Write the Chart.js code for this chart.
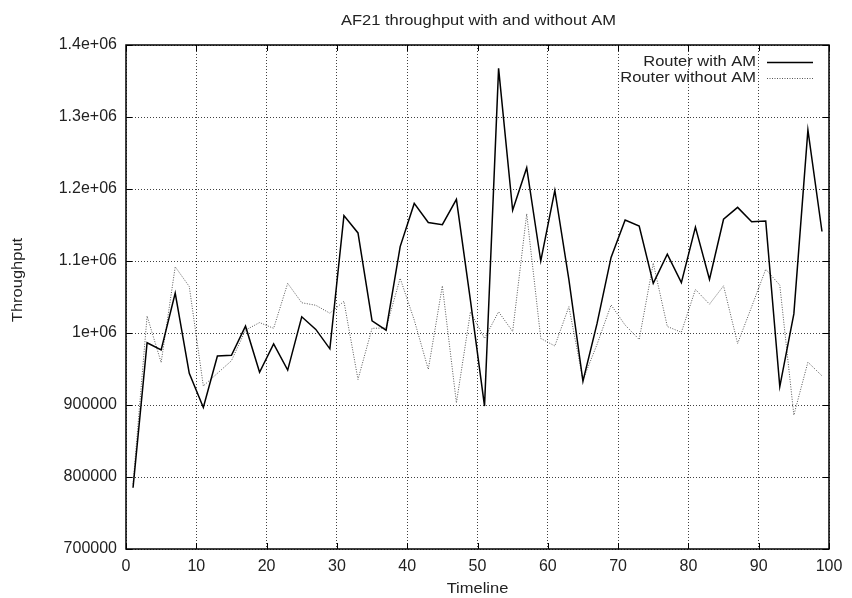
<!DOCTYPE html>
<html>
<head>
<meta charset="utf-8">
<title>AF21 throughput</title>
<script src="https://cdn.jsdelivr.net/npm/chart.js@4.4.1/dist/chart.umd.min.js"></script>
<style>
  html, body { margin: 0; padding: 0; background: #fff; }
  #wrap { width: 852px; height: 598px; }
</style>
</head>
<body>
<div id="wrap"><canvas id="throughputChart" width="852" height="598"></canvas></div>
<script>
// sample times on the timeline
var timeline = [1, 3, 5, 7, 9, 11, 13, 15, 17, 19,
                21, 23, 25, 27, 29, 31, 33, 35, 37, 39,
                41, 43, 45, 47, 49, 51, 53, 55, 57, 59,
                61, 63, 65, 67, 69, 71, 73, 75, 77, 79,
                81, 83, 85, 87, 89, 91, 93, 95, 97, 99];

var withAM = [785000, 986500, 976500, 1055500, 944000, 896500, 968000, 969000, 1009500, 945500,
              985000, 948500, 1022500, 1005000, 978000, 1163000, 1139000, 1017000, 1004000, 1120000,
              1180000, 1153500, 1150500, 1185500, 1045000, 898500, 1367500, 1170500, 1229500, 1100000,
              1198000, 1074000, 933000, 1013000, 1105000, 1157000, 1148500, 1069000, 1109500, 1070000,
              1147000, 1074500, 1158000, 1174500, 1154500, 1155500, 925500, 1026500, 1282000, 1141000];

var withoutAM = [790000, 1023500, 959000, 1092000, 1064500, 926500, 944000, 961500, 1004000, 1014500,
                 1006500, 1069000, 1042000, 1038500, 1027500, 1044000, 935500, 1006500, 1007000, 1076000,
                 1018000, 949500, 1065500, 903000, 1029500, 992500, 1029500, 1002000, 1165500, 992500,
                 982000, 1036500, 935000, 984000, 1039000, 1011000, 991000, 1097000, 1009000, 1001000,
                 1060500, 1040000, 1065500, 985500, 1036500, 1088500, 1066500, 886000, 959500, 940500];

var seriesNames = ["Router with AM", "Router without AM"];
var chartTitle = "AF21 throughput with and without AM";
var xTitle = "Timeline";
var yTitle = "Throughput";

var FONT = "'Liberation Sans', Arial, Helvetica, sans-serif";

function toPoints(ys) {
    var pts = [];
    for (var i = 0; i < timeline.length; i++) {
        pts.push({ x: timeline[i], y: ys[i] });
    }
    return pts;
}

// gnuplot style %g labels
function gLabel(v) {
    if (v >= 1000000) {
        return (Math.round(v / 10000) / 100) + "e+06";
    }
    return String(Math.round(v));
}

// text a little wider than the font, like the postscript output
function wideText(ctx, text, x, y, align, angle) {
    ctx.save();
    ctx.translate(x, y);
    if (angle) ctx.rotate(angle);
    ctx.scale(1.1, 1);
    ctx.textAlign = align;
    ctx.fillText(text, 0, 0);
    ctx.restore();
}

// frame, inward tick marks, title, axis titles and the legend
var gnuplotFrame = {
    id: "gnuplotFrame",
    afterDraw: function(chart) {
        var ctx = chart.ctx;
        var a = chart.chartArea;
        var xs = chart.scales.x, ys = chart.scales.y;
        ctx.save();

        ctx.strokeStyle = "#000";
        ctx.lineWidth = 1;
        ctx.setLineDash([]);
        ctx.beginPath();
        xs.ticks.forEach(function(t) {
            var px = Math.round(xs.getPixelForValue(t.value)) + 0.5;
            ctx.moveTo(px, a.bottom); ctx.lineTo(px, a.bottom - 6);
            ctx.moveTo(px, a.top); ctx.lineTo(px, a.top + 6);
        });
        ys.ticks.forEach(function(t) {
            var py = Math.round(ys.getPixelForValue(t.value)) + 0.5;
            ctx.moveTo(a.left, py); ctx.lineTo(a.left + 6, py);
            ctx.moveTo(a.right, py); ctx.lineTo(a.right - 6, py);
        });
        ctx.stroke();

        ctx.lineWidth = 1.5;
        ctx.strokeRect(a.left, a.top, a.right - a.left, a.bottom - a.top);

        ctx.fillStyle = "#222";
        ctx.font = "15px " + FONT;
        ctx.textBaseline = "alphabetic";
        wideText(ctx, chartTitle, 478.5, 25, "center");

        ctx.textBaseline = "middle";
        wideText(ctx, xTitle, (a.left + a.right) / 2, 589, "center");
        wideText(ctx, yTitle, 18, 280, "center", -Math.PI / 2);

        // legend: right aligned text followed by a line sample
        var rows = [62, 78];
        chart.data.datasets.forEach(function(ds, i) {
            ctx.fillStyle = "#222";
            wideText(ctx, ds.label, 756, rows[i], "right");
            ctx.strokeStyle = ds.borderColor;
            ctx.lineWidth = ds.borderWidth;
            ctx.setLineDash(ds.borderDash || []);
            ctx.beginPath();
            ctx.moveTo(767, rows[i] + 0.5);
            ctx.lineTo(813, rows[i] + 0.5);
            ctx.stroke();
        });
        ctx.restore();
    }
};

new Chart(document.getElementById("throughputChart"), {
    type: "line",
    data: {
        datasets: [
            {
                label: seriesNames[0],
                data: toPoints(withAM),
                borderColor: "#000",
                borderWidth: 1.5,
                pointRadius: 0,
                tension: 0,
                fill: false
            },
            {
                label: seriesNames[1],
                data: toPoints(withoutAM),
                borderColor: "#555",
                borderWidth: 1,
                borderDash: [1, 1.5],
                pointRadius: 0,
                tension: 0,
                fill: false
            }
        ]
    },
    options: {
        responsive: false,
        animation: false,
        events: [],
        layout: { padding: { left: 0, right: 23, top: 45, bottom: 0 } },
        plugins: {
            legend: { display: false },
            title: { display: false },
            tooltip: { enabled: false }
        },
        scales: {
            x: {
                type: "linear",
                min: 0,
                max: 100,
                ticks: {
                    stepSize: 10,
                    color: "#222",
                    padding: 8,
                    maxRotation: 0,
                    font: { family: FONT, size: 16 }
                },
                grid: { color: "rgba(0,0,0,0.75)", lineWidth: 1, drawTicks: false },
                border: { display: false, dash: [1, 2] },
                afterFit: function(scale) { scale.height = 49; }
            },
            y: {
                min: 700000,
                max: 1400000,
                ticks: {
                    stepSize: 100000,
                    color: "#222",
                    padding: 9,
                    font: { family: FONT, size: 16 },
                    callback: function(v) { return gLabel(v); }
                },
                grid: { color: "rgba(0,0,0,0.75)", lineWidth: 1, drawTicks: false },
                border: { display: false, dash: [1, 2] },
                afterFit: function(scale) { scale.width = 126; }
            }
        }
    },
    plugins: [gnuplotFrame]
});
</script>
</body>
</html>
